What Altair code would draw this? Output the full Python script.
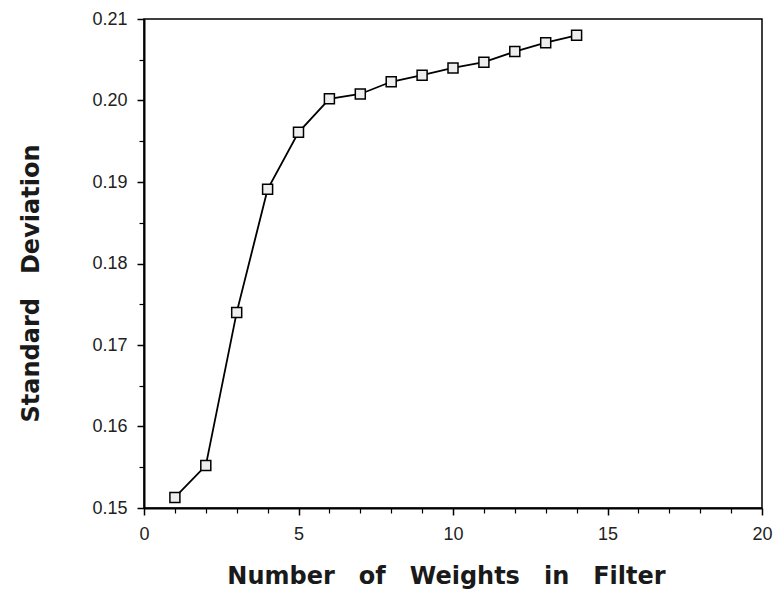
import altair as alt
import pandas as pd

# Filter length vs. resulting standard deviation
weights = [1, 2, 3, 4, 5, 6, 7, 8, 9, 10, 11, 12, 13, 14]
std_dev = [0.1513, 0.1552, 0.1740, 0.1891, 0.1961, 0.2002, 0.2008,
           0.2023, 0.2031, 0.2040, 0.2047, 0.2060, 0.2071, 0.2080]

x_major = [0, 5, 10, 15, 20]
x_minor = [1, 2, 3, 4, 6, 7, 8, 9, 11, 12, 13, 14, 16, 17, 18, 19]
y_major = [0.15, 0.16, 0.17, 0.18, 0.19, 0.20, 0.21]
y_minor = [0.155, 0.165, 0.175, 0.185, 0.195, 0.205]

df = pd.DataFrame({"n": weights, "sd": std_dev})

x_scale = alt.Scale(domain=[0, 20], nice=False, zero=False)
y_scale = alt.Scale(domain=[0.15, 0.21], nice=False, zero=False)

label_font = "Liberation Sans"
title_font = "DejaVu Sans"
sp = "\u2003"

line = alt.Chart(df).mark_line(color="black", strokeWidth=1.8).encode(
    x=alt.X("n:Q", scale=x_scale, axis=alt.Axis(
        orient="bottom", values=x_major, format="d", grid=False,
        domainColor="black", domainWidth=2, tickColor="black", tickWidth=1.5,
        tickSize=7, labelPadding=10, labelFont=label_font, labelFontSize=18,
        labelColor="#222", labelBaseline="top", labelFlush=False,
        labelOverlap=False,
        title=sp.join(["Number", "of", "Weights", "in", "Filter"]),
        titleFont=title_font, titleFontSize=24, titleFontWeight="bold",
        titleColor="#1a1a1a", titleX=302, titleY=68, titleAlign="center",
        titleBaseline="middle")),
    y=alt.Y("sd:Q", scale=y_scale, axis=alt.Axis(
        orient="left", values=y_major, format=".2f", grid=False,
        domainColor="black", domainWidth=2, tickColor="black", tickWidth=1.5,
        tickSize=7, labelPadding=10, labelFont=label_font, labelFontSize=18,
        labelColor="#222", labelFlush=False, labelOverlap=False,
        title=sp.join(["Standard", "Deviation"]),
        titleFont=title_font, titleFontSize=24, titleFontWeight="bold",
        titleColor="#1a1a1a", titleAngle=270, titleX=-113, titleY=264,
        titleAlign="center", titleBaseline="middle")),
)

points = alt.Chart(df).mark_point(
    shape="square", size=100, filled=True, fill="#eeeeee",
    stroke="black", strokeWidth=1.5, opacity=1,
).encode(
    x=alt.X("n:Q", scale=x_scale, axis=alt.Axis(
        orient="bottom", values=x_minor, labels=False, title=None,
        domain=False, grid=False, tickColor="black", tickWidth=1.2,
        tickSize=5)),
    y=alt.Y("sd:Q", scale=y_scale, axis=alt.Axis(
        orient="left", values=y_minor, labels=False, title=None,
        domain=False, grid=False, tickColor="black", tickWidth=1.2,
        tickSize=5)),
)

chart = alt.layer(line, points).resolve_axis(
    x="independent", y="independent"
).properties(
    width=618,
    height=489,
    autosize=alt.AutoSizeParams(type="none"),
    padding={"left": 144, "top": 19, "right": 12, "bottom": 89},
    background="white",
).configure_view(stroke="black", strokeWidth=1.5)

chart.save("out.html", embed_options={"renderer": "svg", "actions": False})
